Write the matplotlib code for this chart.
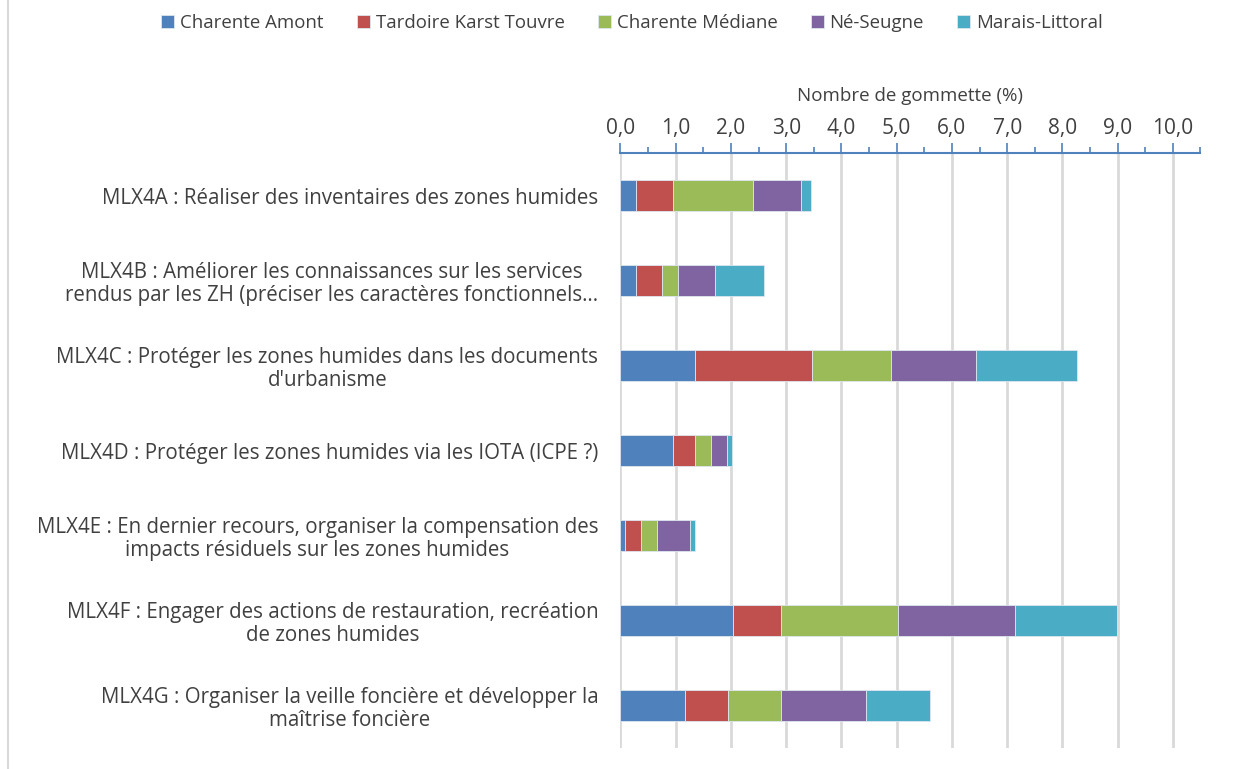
import matplotlib.pyplot as plt
import numpy as np
from matplotlib.ticker import FuncFormatter, MultipleLocator
from matplotlib.lines import Line2D

plt.rcParams['font.family'] = ['Open Sans', 'DejaVu Sans']

# データ
categories = [
    "MLX4A : Réaliser des inventaires des zones humides",
    "MLX4B : Améliorer les connaissances sur les services\nrendus par les ZH (préciser les caractères fonctionnels…",
    "MLX4C : Protéger les zones humides dans les documents\nd'urbanisme",
    "MLX4D : Protéger les zones humides via les IOTA (ICPE ?)",
    "MLX4E : En dernier recours, organiser la compensation des\nimpacts résiduels sur les zones humides",
    "MLX4F : Engager des actions de restauration, recréation\nde zones humides",
    "MLX4G : Organiser la veille foncière et développer la\nmaîtrise foncière",
]
series_names = ["Charente Amont", "Tardoire Karst Touvre", "Charente Médiane",
                "Né-Seugne", "Marais-Littoral"]
charente_amont = [0.28, 0.28, 1.35, 0.95, 0.09, 2.03, 1.16]
tardoire = [0.67, 0.48, 2.11, 0.39, 0.29, 0.87, 0.78]
charente_mediane = [1.45, 0.29, 1.44, 0.29, 0.29, 2.13, 0.97]
ne_seugne = [0.86, 0.67, 1.54, 0.29, 0.58, 2.12, 1.53]
marais = [0.19, 0.87, 1.83, 0.10, 0.10, 1.84, 1.16]
colors = ["#4f81bd", "#c0504d", "#9bbb59", "#8064a2", "#4bacc6"]

fig = plt.figure(figsize=(12.38, 7.69), dpi=100)
ax = fig.add_axes([0.5012, 0.0273, 0.4685, 0.7737])

y = np.arange(len(categories))
left = np.zeros(len(categories))
for name, vals, c in zip(series_names,
                         [charente_amont, tardoire, charente_mediane, ne_seugne, marais],
                         colors):
    ax.barh(y, vals, left=left, height=0.36, color=c, edgecolor='#dde6f0',
            linewidth=0.6, label=name, zorder=3)
    left += np.array(vals)

ax.set_ylim(len(categories) - 0.5, -0.5)
ax.set_xlim(0, 10.5)
ax.set_yticks(y)
ax.set_yticklabels(categories, fontsize=14.8, color='#404040', multialignment='center',
                   linespacing=1.15)
ax.tick_params(axis='y', length=0, pad=16)

# 上側の x 軸
ax.xaxis.tick_top()
ax.xaxis.set_label_position('top')
ax.xaxis.set_major_locator(MultipleLocator(1))
ax.xaxis.set_minor_locator(MultipleLocator(0.5))
ax.xaxis.set_major_formatter(FuncFormatter(lambda v, p: f"{v:.1f}".replace('.', ',')))
ax.tick_params(axis='x', which='major', length=7, width=1.2, color='#4f81bd',
               labelsize=15, labelcolor='#404040', pad=3, direction='out')
ax.tick_params(axis='x', which='minor', length=4, width=1.2, color='#4f81bd', direction='out')
ax.set_xlabel("Nombre de gommette (%)", fontsize=13.5, color='#404040', labelpad=12)

ax.grid(axis='x', color='#d9d9d9', linewidth=2, zorder=0)
for s in ['bottom', 'left', 'right']:
    ax.spines[s].set_visible(False)
ax.spines['top'].set_color('#4f81bd')
ax.spines['top'].set_linewidth(1.5)

# 凡例
fig.legend(loc='center', bbox_to_anchor=(632 / 1238, 1 - 23 / 769), ncol=5,
           frameon=False, fontsize=13.4, handlelength=0.7, handleheight=0.7,
           handletextpad=0.3, columnspacing=1.8, labelcolor='#404040')

# 枠線
fig.add_artist(Line2D([8 / 1238, 8 / 1238], [0, 1], color='#d9d9d9', linewidth=1.5))

fig.savefig('out.png', dpi=100)
